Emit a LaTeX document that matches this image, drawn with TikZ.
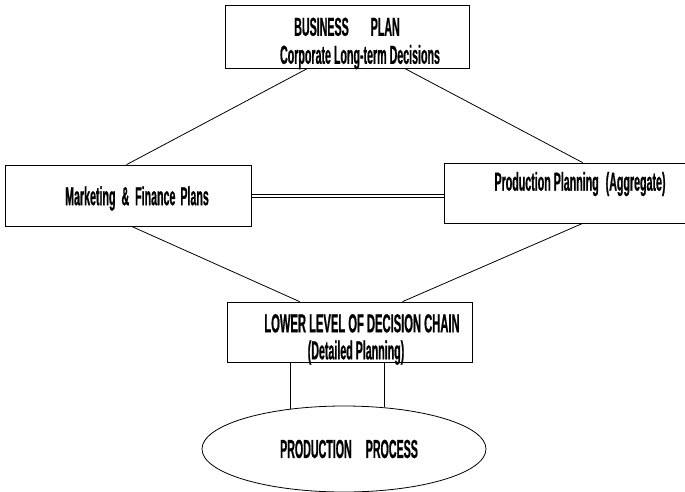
\documentclass[tikz,border=0pt]{standalone}
\usepackage{fontspec}
\setmainfont[FakeStretch=0.41,FakeBold=0.6]{Liberation Sans}
\usetikzlibrary{shapes.geometric}
\newcommand{\dn}[2]{\raisebox{#1}[\height][\depth]{#2}}
\begin{document}
\begin{tikzpicture}[x=1pt,y=-1pt,
  every node/.style={font=\fontsize{26}{28}\selectfont\bfseries},
  box/.style={draw,line width=0.8pt,rectangle,inner sep=0pt,align=center},
  link/.style={line width=0.8pt}]
\useasboundingbox (0,0) rectangle (685,491);
\node[box,minimum width=244pt,minimum height=63pt] (top) at (347,36.5)
  {\dn{-7pt}{BUSINESS\hspace{22pt}PLAN}\\\dn{-7pt}{\hspace*{26pt}Corporate Long-term Decisions}};
\node[box,minimum width=246pt,minimum height=61pt] (mkt) at (128,195.5)
  {\dn{-3pt}{\hspace*{18pt}Marketing\hspace{3pt} \&\hspace{3pt} Finance\hspace{2pt} Plans}};
\node[box,minimum width=272pt,minimum height=60pt] (prod) at (580,193)
  {\dn{9pt}{Production Planning\hspace{4pt} (Aggregate)}};
\node[box,minimum width=245pt,minimum height=60pt] (low) at (349.5,332)
  {\dn{-8pt}{\hspace*{25pt}\scalebox{1.05}[1]{LOWER LEVEL OF DECISION CHAIN}}\\\dn{-7pt}{\hspace*{13pt}(Detailed Planning)}};
\node[draw,line width=0.8pt,ellipse,minimum width=284pt,minimum height=86pt,inner sep=0pt] (ell) at (344,449)
  {\hspace*{10pt}PRODUCTION\hspace{14pt}PROCESS};
\draw[link] ([xshift=83pt]top.south west) -- ([xshift=122pt]mkt.north west);
\draw[link] ([xshift=180pt]top.south west) -- ([xshift=139pt]prod.north west);
\draw[link] ([xshift=127pt]mkt.south west) -- ([xshift=73pt]low.north west);
\draw[link] ([xshift=139pt]prod.south west) -- ([xshift=176pt]low.north west);
\draw[link] ([yshift=-1.6pt]mkt.east) -- ([yshift=-1.6pt]mkt.east -| prod.west);
\draw[link] ([yshift=1.6pt]mkt.east) -- ([yshift=1.6pt]mkt.east -| prod.west);
\draw[link] (low.south west -| ell.143.5) -- (ell.143.5);
\draw[link] (low.south west -| ell.46.4) -- (ell.46.4);
\end{tikzpicture}
\end{document}
